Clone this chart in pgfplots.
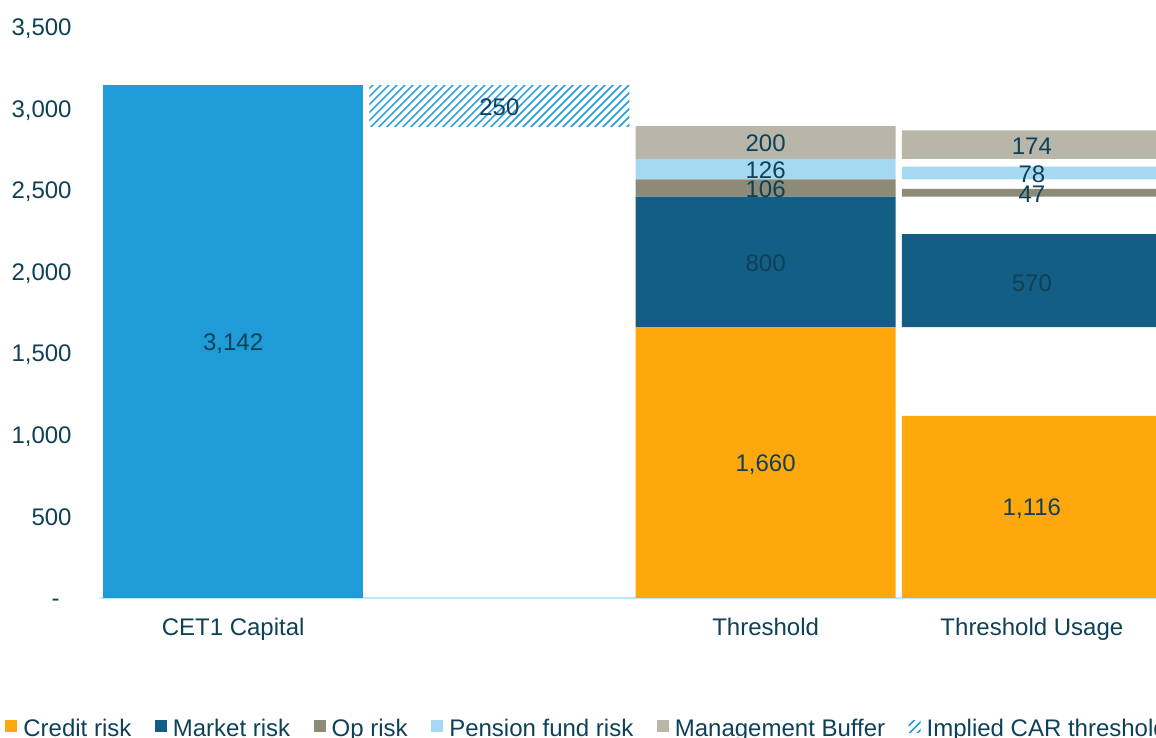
\documentclass[border=0pt]{standalone}
\usepackage{pgfplots}
\pgfplotsset{compat=1.18}
\usepackage{fontspec}
\setmainfont{Liberation Sans}
\usetikzlibrary{patterns.meta}
\definecolor{cetblue}{HTML}{1F9BD7}
\definecolor{credit}{HTML}{FFA80D}
\definecolor{market}{HTML}{135E84}
\definecolor{oprisk}{HTML}{8E8A78}
\definecolor{pension}{HTML}{A5D9F2}
\definecolor{mgmt}{HTML}{B8B5A9}
\definecolor{txt}{HTML}{0E4157}
\definecolor{axisline}{HTML}{BDE8F7}
\begin{document}
\begin{tikzpicture}[font=\fontsize{12}{14}\selectfont]
\useasboundingbox (0,0) rectangle (578pt,369pt);
\clip (0,0) rectangle (578pt,369pt);
\begin{axis}[
  at={(50pt,70pt)}, anchor=south west,
  scale only axis, width=532.5pt, height=285.5pt,
  ybar stacked, bar width=130pt,
  xmin=-0.5, xmax=3.5, ymin=0, ymax=3500,
  axis x line*=bottom, axis y line*=left,
  x axis line style={draw=axisline, line width=1pt, -},
  y axis line style={draw=none},
  major tick length=0pt,
  xtick={0,1,2,3}, xticklabels={CET1 Capital,,Threshold,Threshold Usage},
  ytick={0,500,...,3500},
  yticklabels={{-\kern6pt},500,{1,000},{1,500},{2,000},{2,500},{3,000},{3,500}},
  xticklabel style={anchor=base, inner sep=0pt, yshift=-19pt, text=txt},
  yticklabel style={anchor=base east, inner sep=0pt, xshift=-14pt, yshift=-4.3pt, text=txt},
  legend columns=-1,
  legend style={at={(-0.0892,-0.2487)}, anchor=south west, draw=none, fill=none, inner sep=0pt,
    nodes={inner sep=0pt, text=txt},
    /tikz/every odd column/.append style={column sep=3pt},
    /tikz/every even column/.append style={column sep=11.75pt}},
  legend image code/.code={\path[#1, draw=none] (0pt,-1.5pt) rectangle (6pt,4.5pt);},
]
\addplot[fill=none, draw=none, forget plot] coordinates {(0,0) (1,2892) (2,0) (3,0)};
\addplot[fill=cetblue, draw=none, forget plot] coordinates {(0,3142) (1,0) (2,0) (3,0)};
\addplot[fill=credit, draw=none] coordinates {(0,0) (1,0) (2,1660) (3,1116)};
\addlegendentry{Credit risk}
\addplot[fill=none, draw=none, forget plot] coordinates {(0,0) (1,0) (2,0) (3,544)};
\addplot[fill=market, draw=none] coordinates {(0,0) (1,0) (2,800) (3,570)};
\addlegendentry{Market risk}
\addplot[fill=none, draw=none, forget plot] coordinates {(0,0) (1,0) (2,0) (3,230)};
\addplot[fill=oprisk, draw=none] coordinates {(0,0) (1,0) (2,106) (3,47)};
\addlegendentry{Op risk}
\addplot[fill=none, draw=none, forget plot] coordinates {(0,0) (1,0) (2,0) (3,59)};
\addplot[fill=pension, draw=none] coordinates {(0,0) (1,0) (2,126) (3,78)};
\addlegendentry{Pension fund risk}
\addplot[fill=none, draw=none, forget plot] coordinates {(0,0) (1,0) (2,0) (3,48)};
\addplot[fill=mgmt, draw=none] coordinates {(0,0) (1,0) (2,200) (3,174)};
\addlegendentry{Management Buffer}
\addplot[fill=white, draw=none, pattern={Lines[angle=45, distance=2.83pt, line width=0.75pt]}, pattern color=cetblue] coordinates {(0,0) (1,250) (2,0) (3,0)};
\addlegendentry{Implied CAR threshold}
\end{axis}
\begin{axis}[
  at={(50pt,70pt)}, anchor=south west,
  scale only axis, width=532.5pt, height=285.5pt,
  xmin=-0.5, xmax=3.5, ymin=0, ymax=3500,
  hide axis, clip=false,
]
\addplot[draw=none, mark=none, point meta=explicit symbolic, nodes near coords,
  nodes near coords style={anchor=center, text=txt, inner sep=0pt}]
  table[meta=lab] {
x y lab
0 1560 3,142
1 3010 250
2 820 1,660
2 2050 800
2 2505 106
2 2620 126
2 2785 200
3 548 1,116
3 1932 570
3 2472 47
3 2598 78
3 2768 174
};
\end{axis}
\end{tikzpicture}
\end{document}
